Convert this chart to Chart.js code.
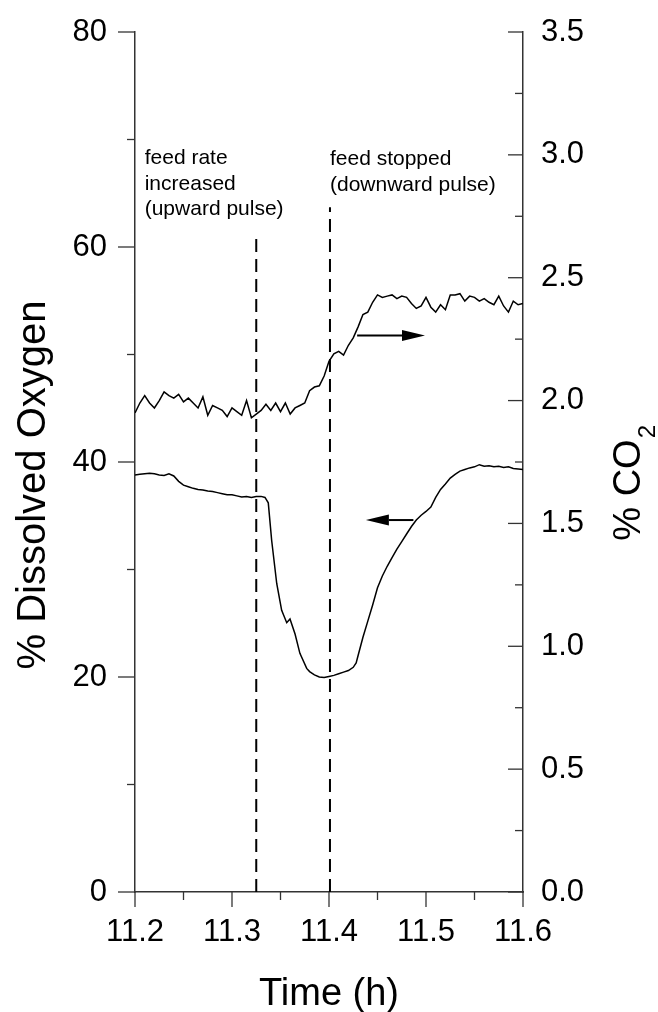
<!DOCTYPE html>
<html>
<head>
<meta charset="utf-8">
<script src="https://cdn.jsdelivr.net/npm/chart.js@4.4.1/dist/chart.umd.min.js"></script>
<style>
  html, body { margin: 0; padding: 0; background: #fff; }
  #wrap { width: 658px; height: 1012px; position: relative; }
</style>
</head>
<body>
<div id="wrap"><canvas id="chart"></canvas></div>
<script>
// time (h) for the CO2 trace
const timeCO2 = [11.200, 11.205, 11.210, 11.215, 11.220, 11.225, 11.230, 11.235, 11.240, 11.245,
  11.250, 11.255, 11.260, 11.265, 11.270, 11.275, 11.280, 11.285, 11.290, 11.295,
  11.300, 11.305, 11.310, 11.315, 11.320, 11.325, 11.330, 11.335, 11.340, 11.345,
  11.350, 11.355, 11.360, 11.365, 11.370, 11.375, 11.380, 11.385, 11.390, 11.395,
  11.400, 11.405, 11.410, 11.415, 11.420, 11.425, 11.430, 11.435, 11.440, 11.445,
  11.450, 11.455, 11.460, 11.465, 11.470, 11.475, 11.480, 11.485, 11.490, 11.495,
  11.500, 11.505, 11.510, 11.515, 11.520, 11.525, 11.530, 11.535, 11.540, 11.545,
  11.550, 11.555, 11.560, 11.565, 11.570, 11.575, 11.580, 11.585, 11.590, 11.595, 11.600];
// % CO2 (right axis)
const co2 = [1.95, 1.99, 2.02, 1.99, 1.97, 2.00, 2.035, 2.02, 2.01, 2.025,
  1.995, 2.01, 1.99, 1.97, 2.015, 1.94, 1.98, 1.97, 1.96, 1.935,
  1.97, 1.955, 1.94, 2.00, 1.93, 1.945, 1.96, 1.985, 1.96, 1.99,
  1.955, 1.99, 1.945, 1.97, 1.98, 1.99, 2.04, 2.055, 2.06, 2.10,
  2.16, 2.19, 2.20, 2.185, 2.225, 2.255, 2.30, 2.35, 2.36, 2.40,
  2.43, 2.42, 2.425, 2.43, 2.415, 2.425, 2.42, 2.395, 2.375, 2.385,
  2.42, 2.38, 2.36, 2.39, 2.37, 2.43, 2.43, 2.435, 2.405, 2.425,
  2.42, 2.405, 2.415, 2.40, 2.39, 2.425, 2.385, 2.36, 2.405, 2.39, 2.395];

// time (h) for the dissolved oxygen trace
const timeDO = [11.200, 11.205, 11.210, 11.215, 11.220, 11.225, 11.230, 11.235, 11.240, 11.245,
  11.250, 11.255, 11.260, 11.265, 11.270, 11.275, 11.280, 11.285, 11.290, 11.295,
  11.300, 11.305, 11.310, 11.315, 11.320, 11.325, 11.330, 11.334, 11.3374, 11.3409,
  11.3461, 11.3512, 11.3564, 11.3598, 11.365, 11.370, 11.377, 11.380, 11.385, 11.390,
  11.395, 11.400, 11.405, 11.410, 11.415, 11.420, 11.425, 11.428, 11.430, 11.435,
  11.440, 11.445, 11.450, 11.455, 11.460, 11.465, 11.470, 11.475, 11.480, 11.485,
  11.490, 11.495, 11.500, 11.505, 11.510, 11.515, 11.520, 11.525, 11.530, 11.535,
  11.540, 11.545, 11.550, 11.555, 11.560, 11.565, 11.570, 11.575, 11.580, 11.585,
  11.590, 11.595, 11.600];
// % dissolved oxygen (left axis)
const dissolvedO2 = [38.8, 38.85, 38.9, 38.95, 38.9, 38.8, 38.75, 38.9, 38.7, 38.2,
  37.85, 37.7, 37.55, 37.45, 37.4, 37.3, 37.25, 37.15, 37.05, 36.95,
  36.95, 36.85, 36.75, 36.8, 36.7, 36.8, 36.8, 36.7, 36.2, 32.7,
  28.7, 26.2, 25.05, 25.4, 24.0, 22.2, 20.8, 20.5, 20.2, 20.0,
  19.95, 20.05, 20.15, 20.3, 20.45, 20.6, 20.9, 21.3, 22.0, 23.7,
  25.2, 26.7, 28.3, 29.4, 30.3, 31.1, 31.9, 32.6, 33.3, 34.0,
  34.6, 35.05, 35.4, 35.8, 36.7, 37.45, 37.95, 38.5, 38.85, 39.15,
  39.3, 39.45, 39.55, 39.75, 39.6, 39.65, 39.55, 39.6, 39.5, 39.55,
  39.4, 39.35, 39.3];

// event markers: time and top of dashed line (left-axis units)
const eventTimes = [11.325, 11.401];
const eventTops = [61.1, 63.7];
const eventNotes = [
  ["feed rate", "increased", "(upward pulse)"],
  ["feed stopped", "(downward pulse)"]
];
const noteX = [11.21, 11.401];
const noteY = [[67.7, 65.3, 63.0], [67.6, 65.2]];

// arrows: [from x, to x, y]
const arrowCO2 = [11.429, 11.499, 2.265];
const arrowDO = [11.487, 11.438, 34.6];

// axis ticks
const xMajor = [11.2, 11.3, 11.4, 11.5, 11.6];
const xMinor = [11.25, 11.35, 11.45, 11.55];
const yMajor = [0, 20, 40, 60, 80];
const yMinor = [10, 30, 50, 70];
const y2Major = [0, 0.5, 1.0, 1.5, 2.0, 2.5, 3.0, 3.5];
const y2Minor = [0.25, 0.75, 1.25, 1.75, 2.25, 2.75, 3.25];

const FONT = "'Liberation Sans', Arial, sans-serif";
Chart.defaults.font.family = FONT;
Chart.defaults.color = '#000';

const toXY = (xs, ys) => xs.map((t, i) => ({x: t, y: ys[i]}));

const extras = {
  id: 'extras',
  afterDraw(chart) {
    const {ctx, scales: {x, y, y2}} = chart;
    const seg = (x1, y1, x2, y2_) => { ctx.beginPath(); ctx.moveTo(x1, y1); ctx.lineTo(x2, y2_); ctx.stroke(); };
    ctx.save();
    // tick marks
    ctx.strokeStyle = '#333';
    ctx.lineWidth = 1.3;
    const bx = x.top;
    xMajor.forEach(v => { const p = x.getPixelForValue(v); seg(p, bx, p, bx + 15); });
    xMinor.forEach(v => { const p = x.getPixelForValue(v); seg(p, bx, p, bx + 8); });
    const lx = y.right;
    yMajor.forEach(v => { const p = y.getPixelForValue(v); seg(lx - 17, p, lx, p); });
    yMinor.forEach(v => { const p = y.getPixelForValue(v); seg(lx - 8, p, lx, p); });
    const rx = y2.left;
    y2Major.forEach(v => { const p = y2.getPixelForValue(v); seg(rx - 15, p, rx, p); });
    y2Minor.forEach(v => { const p = y2.getPixelForValue(v); seg(rx - 8, p, rx, p); });

    // arrows
    ctx.strokeStyle = '#000';
    ctx.fillStyle = '#000';
    ctx.lineWidth = 2;
    const arrow = (x0, x1, yy) => {
      const dir = Math.sign(x1 - x0);
      const headLen = 23, half = 5.5;
      seg(x0, yy, x1 - dir * headLen, yy);
      ctx.beginPath();
      ctx.moveTo(x1, yy);
      ctx.lineTo(x1 - dir * headLen, yy - half);
      ctx.lineTo(x1 - dir * headLen, yy + half);
      ctx.closePath();
      ctx.fill();
    };
    arrow(x.getPixelForValue(arrowCO2[0]), x.getPixelForValue(arrowCO2[1]), y2.getPixelForValue(arrowCO2[2]));
    arrow(x.getPixelForValue(arrowDO[0]), x.getPixelForValue(arrowDO[1]), y.getPixelForValue(arrowDO[2]));

    // annotations
    ctx.font = '21px ' + FONT;
    ctx.textAlign = 'left';
    ctx.textBaseline = 'alphabetic';
    eventNotes.forEach((lines, i) => {
      lines.forEach((s, j) => ctx.fillText(s, x.getPixelForValue(noteX[i]), y.getPixelForValue(noteY[i][j])));
    });

    // axis titles
    ctx.font = '38px ' + FONT;
    ctx.textAlign = 'center';
    ctx.fillText('Time (h)', (x.left + x.right) / 2, 1005);

    ctx.save();
    ctx.translate(45, 485);
    ctx.rotate(-Math.PI / 2);
    ctx.font = '40px ' + FONT;
    ctx.fillText('% Dissolved Oxygen', 0, 0);
    ctx.restore();

    ctx.save();
    ctx.translate(640, 490);
    ctx.rotate(-Math.PI / 2);
    ctx.font = '38px ' + FONT;
    ctx.textAlign = 'left';
    const main = '% CO';
    const w = ctx.measureText(main).width;
    ctx.fillText(main, -w / 2, 0);
    ctx.font = '24px ' + FONT;
    ctx.fillText('2', w / 2 + 1, 15);
    ctx.restore();

    ctx.restore();
  }
};

const dashed = eventTimes.map((t, i) => ({
  data: [{x: t, y: 0}, {x: t, y: eventTops[i]}],
  yAxisID: 'y',
  borderColor: '#000',
  borderWidth: 2,
  borderDash: [13, 7],
  pointRadius: 0
}));

const fitVertical = s => { s.width = 135; s.paddingTop = 0; s.paddingBottom = 0; };

new Chart(document.getElementById('chart'), {
  type: 'line',
  data: {
    datasets: [
      {
        label: '% CO2',
        data: toXY(timeCO2, co2),
        yAxisID: 'y2',
        borderColor: '#000',
        borderWidth: 1.5,
        pointRadius: 0,
        tension: 0
      },
      {
        label: '% Dissolved Oxygen',
        data: toXY(timeDO, dissolvedO2),
        yAxisID: 'y',
        borderColor: '#000',
        borderWidth: 1.5,
        pointRadius: 0,
        tension: 0
      },
      ...dashed
    ]
  },
  options: {
    responsive: true,
    maintainAspectRatio: false,
    animation: false,
    layout: { padding: { top: 32, left: 0, right: 0, bottom: 0 } },
    plugins: { legend: { display: false }, tooltip: { enabled: false } },
    scales: {
      x: {
        type: 'linear',
        min: 11.2,
        max: 11.6,
        afterFit: s => { s.height = 120; s.paddingLeft = 0; s.paddingRight = 0; },
        afterBuildTicks: s => { s.ticks = xMajor.map(v => ({value: v})); },
        grid: { display: false, drawTicks: false },
        border: { display: true, color: '#333', width: 1.5 },
        ticks: { font: { size: 31 }, padding: 22, maxRotation: 0, callback: v => v.toFixed(1) }
      },
      y: {
        position: 'left',
        min: 0,
        max: 80,
        afterFit: fitVertical,
        afterBuildTicks: s => { s.ticks = yMajor.map(v => ({value: v})); },
        grid: { display: false, drawTicks: false },
        border: { display: true, color: '#333', width: 1.5 },
        ticks: { font: { size: 31 }, padding: 28 }
      },
      y2: {
        position: 'right',
        min: 0,
        max: 3.5,
        afterFit: fitVertical,
        afterBuildTicks: s => { s.ticks = y2Major.map(v => ({value: v})); },
        grid: { display: false, drawTicks: false },
        border: { display: true, color: '#333', width: 1.5 },
        ticks: { font: { size: 31 }, padding: 18, callback: v => v.toFixed(1) }
      }
    }
  },
  plugins: [extras]
});
</script>
</body>
</html>
